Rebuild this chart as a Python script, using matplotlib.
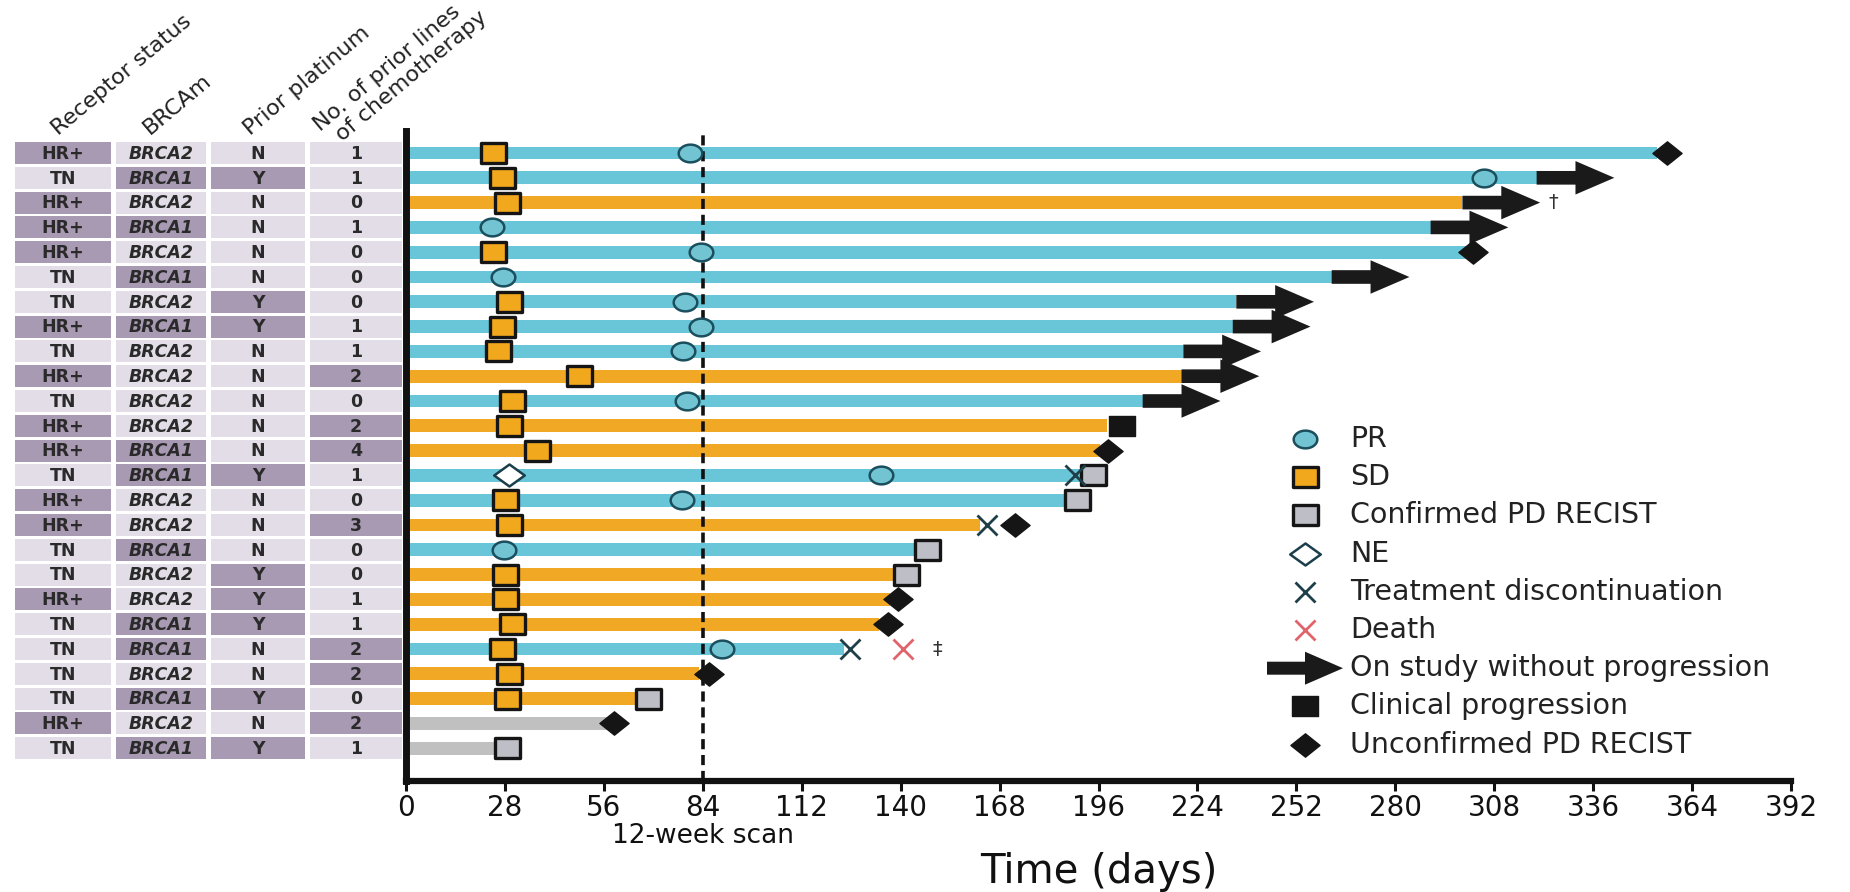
import matplotlib.pyplot as plt
import numpy as np
from matplotlib.patches import Rectangle, FancyArrow
from matplotlib.path import Path
from matplotlib.lines import Line2D

plt.rcParams['font.family'] = ['DejaVu Sans']

# patient table (top row first)
receptor = ['HR+', 'TN', 'HR+', 'HR+', 'HR+', 'TN', 'TN', 'HR+', 'TN', 'HR+', 'TN', 'HR+', 'HR+',
            'TN', 'HR+', 'HR+', 'TN', 'TN', 'HR+', 'TN', 'TN', 'TN', 'TN', 'HR+', 'TN']
brca = ['BRCA2', 'BRCA1', 'BRCA2', 'BRCA1', 'BRCA2', 'BRCA1', 'BRCA2', 'BRCA1', 'BRCA2', 'BRCA2',
        'BRCA2', 'BRCA2', 'BRCA1', 'BRCA1', 'BRCA2', 'BRCA2', 'BRCA1', 'BRCA2', 'BRCA2', 'BRCA1',
        'BRCA1', 'BRCA2', 'BRCA1', 'BRCA2', 'BRCA1']
platinum = ['N', 'Y', 'N', 'N', 'N', 'N', 'Y', 'Y', 'N', 'N', 'N', 'N', 'N', 'Y', 'N', 'N', 'N',
            'Y', 'Y', 'Y', 'N', 'N', 'Y', 'N', 'Y']
prior_lines = [1, 1, 0, 1, 0, 0, 0, 1, 1, 2, 0, 2, 4, 1, 0, 3, 0, 0, 1, 1, 2, 2, 0, 2, 1]

# swimmer bars
best_response = ['PR', 'PR', 'SD', 'PR', 'PR', 'PR', 'PR', 'PR', 'PR', 'SD', 'PR', 'SD', 'SD',
                 'PR', 'PR', 'SD', 'PR', 'SD', 'SD', 'SD', 'PR', 'SD', 'SD', 'PD', 'PD']
duration = [354, 320, 299, 290, 300, 262, 235, 234, 220, 219.5, 208.5, 198.5, 196.5, 192, 188,
            162.5, 145, 140, 137, 134, 124, 83, 65.5, 57, 26]
ongoing = [2, 3, 4, 6, 7, 8, 9, 10, 11]  # patient numbers still on study

# events (patient number, day)
sd_pt = [1, 2, 3, 5, 7, 8, 9, 10, 11, 12, 13, 15, 16, 18, 19, 20, 21, 22, 23]
sd_day = [24.6, 27.2, 28.6, 24.6, 29.2, 27.2, 26, 49, 30, 29.2, 37, 28, 29.2, 28, 28, 30, 27.2, 29.2, 28.6]
pr_pt = [1, 2, 4, 5, 6, 7, 8, 9, 11, 14, 15, 17, 21]
pr_day = [80.4, 305, 24.3, 83.5, 27.5, 79, 83.5, 78.4, 79.5, 134.4, 78, 27.7, 89.4]
ne_pt = [14]
ne_day = [29.2]
cpd_pt = [14, 15, 17, 18, 23, 25]
cpd_day = [194.4, 190, 147.5, 141.5, 68.5, 28.6]
disc_pt = [14, 16, 21]
disc_day = [189.4, 164.4, 125.7]
death_pt = [21]
death_day = [140.7]
clin_pt = [12]
clin_day = [202.6]
upd_pt = [1, 5, 13, 16, 19, 20, 22, 24]
upd_day = [357, 302, 198.7, 172.4, 139.3, 136.4, 85.8, 59]
note_pt = [3, 21]
note_day = [324.6, 150.3]
note_txt = ['\u2020', '\u2021']

col_headers = ['Receptor status', 'BRCAm', 'Prior platinum']

CYAN = '#68C6D8'
ORANGE = '#F0A825'
GRAY = '#C0C0C0'
bar_colors = {'PR': CYAN, 'SD': ORANGE, 'PD': GRAY}
DARK_CELL = '#A99AB4'
LIGHT_CELL = '#E2DDE7'


def box(a):
    return Path([(-1, -a), (1, -a), (1, a), (-1, a), (-1, -a)], closed=True)


def ellipse(a):
    t = np.linspace(0, 2 * np.pi, 61)
    return Path(np.column_stack([np.cos(t), a * np.sin(t)]), closed=True)


def diamond(a):
    return Path([(-1, 0), (0, a), (1, 0), (0, -a), (-1, 0)], closed=True)


styles = {
    'PR': dict(marker=ellipse(0.75), ms=17, mfc='#72C4D3', mec='#1B4F5E', mew=1.8),
    'SD': dict(marker=box(0.78), ms=18, mfc='#F2A81D', mec='#151515', mew=2.4),
    'CPD': dict(marker=box(0.78), ms=18, mfc='#BEBEC6', mec='#151515', mew=2.4),
    'NE': dict(marker=diamond(0.72), ms=22, mfc='white', mec='#1B3F4A', mew=1.8),
    'DISC': dict(marker='x', ms=14, mfc='none', mec='#1E3E48', mew=2),
    'DEATH': dict(marker='x', ms=14, mfc='none', mec='#E0646C', mew=2),
    'CLIN': dict(marker=box(0.78), ms=19, mfc='#151515', mec='#151515', mew=1),
    'UPD': dict(marker=diamond(0.8), ms=21, mfc='#151515', mec='#151515', mew=1),
}

W, H = 1850, 892
AX_L, AX_R, AX_T, AX_B = 406, 1791, 131, 781
ROW0, ROWSTEP = 153, 24.8

fig = plt.figure(figsize=(W / 100, H / 100), dpi=100)
ax = fig.add_axes([AX_L / W, 1 - AX_B / H, (AX_R - AX_L) / W, (AX_B - AX_T) / H])
ax_t = fig.add_axes([0, 1 - AX_B / H, AX_L / W, (AX_B - AX_T) / H], sharey=ax)

n = len(receptor)
rows = np.arange(n)

ax.barh(rows, duration, height=0.52, color=[bar_colors[r] for r in best_response], zorder=1)
ax.axvline(84, color='#111111', lw=2.6, dashes=(2.8, 1.6), zorder=2)

for p in ongoing:
    i = p - 1
    ax.add_patch(FancyArrow(duration[i], i, 22, 0, width=0.55, head_width=1.35, head_length=11,
                            length_includes_head=True, color='#1A1A1A', lw=0, zorder=3))


def put(pts, days, key):
    st = styles[key]
    ax.plot(days, np.array(pts) - 1, ls='none', marker=st['marker'], ms=st['ms'], mfc=st['mfc'],
            mec=st['mec'], mew=st['mew'], zorder=4, clip_on=False)


put(sd_pt, sd_day, 'SD')
put(pr_pt, pr_day, 'PR')
put(ne_pt, ne_day, 'NE')
put(cpd_pt, cpd_day, 'CPD')
put(disc_pt, disc_day, 'DISC')
put(death_pt, death_day, 'DEATH')
put(clin_pt, clin_day, 'CLIN')
put(upd_pt, upd_day, 'UPD')

for p, d, s in zip(note_pt, note_day, note_txt):
    ax.text(d, p - 1, s, ha='center', va='center', fontsize=14, color='#333333', zorder=5)

ax.set_xlim(0, 392)
ax.set_ylim((AX_B - ROW0) / ROWSTEP, (AX_T - ROW0) / ROWSTEP)
ax.set_xticks(np.arange(0, 393, 28))
ax.set_yticks([])
ax.tick_params(axis='x', length=7, width=2.2, labelsize=20, pad=2, colors='#111111')
for s in ['top', 'right']:
    ax.spines[s].set_visible(False)
ax.spines['left'].set_linewidth(5)
ax.spines['bottom'].set_linewidth(4.5)
ax.spines['left'].set_color('#111111')
ax.spines['bottom'].set_color('#111111')
ax.set_xlabel('Time (days)', fontsize=29, labelpad=22, color='#111111')
ax.text(84, -0.085, '12-week scan', transform=ax.get_xaxis_transform(), ha='center', va='center',
        fontsize=19, color='#111111')

# table
ax_t.set_xlim(0, AX_L)
ax_t.axis('off')
cols = [(15, 111), (116, 206), (211, 305), (310, 402)]
for i in rows:
    cells = [(receptor[i], receptor[i] == 'HR+', 'normal'),
             (brca[i], brca[i] == 'BRCA1', 'italic'),
             (platinum[i], platinum[i] == 'Y', 'normal'),
             (str(prior_lines[i]), prior_lines[i] >= 2, 'normal')]
    for (x0, x1), (txt, dark, style) in zip(cols, cells):
        ax_t.add_patch(Rectangle((x0, i - 0.44), x1 - x0, 0.88, color=DARK_CELL if dark else LIGHT_CELL, lw=0))
        ax_t.text((x0 + x1) / 2, i + 0.03, txt, ha='center', va='center', fontsize=12.5,
                  fontweight='bold', style=style, color='#2A2A2A')


def ry(py):
    return (py - ROW0) / ROWSTEP


hdr_pos = [(58, 136), (150, 135), (250, 136)]
for (hx, hy), txt in zip(hdr_pos, col_headers):
    ax_t.text(hx, ry(hy), txt, rotation=40, rotation_mode='anchor', ha='left', va='baseline',
              fontsize=16, color='#222222')
ax_t.text(320, ry(132), 'No. of prior lines', rotation=40, rotation_mode='anchor', ha='left',
          va='baseline', fontsize=16, color='#222222')
ax_t.text(342, ry(142), 'of chemotherapy', rotation=40, rotation_mode='anchor', ha='left',
          va='baseline', fontsize=16, color='#222222')

# legend
LEG_X, LEG_TX, LEG_Y0, LEG_DY = 1305, 1350, 439, 38.2
legend_items = [('PR', 'PR'), ('SD', 'SD'), ('CPD', 'Confirmed PD RECIST'), ('NE', 'NE'),
                ('DISC', 'Treatment discontinuation'), ('DEATH', 'Death'),
                ('ARROW', 'On study without progression'), ('CLIN', 'Clinical progression'),
                ('UPD', 'Unconfirmed PD RECIST')]
for k, (key, label) in enumerate(legend_items):
    y = 1 - (LEG_Y0 + k * LEG_DY) / H
    if key == 'ARROW':
        fig.add_artist(FancyArrow(1267 / W, y, 76 / W, 0, width=13 / H, head_width=33 / H,
                                  head_length=38 / W, length_includes_head=True,
                                  color='#1A1A1A', lw=0, transform=fig.transFigure))
    else:
        st = styles[key]
        fig.add_artist(Line2D([LEG_X / W], [y], ls='none', marker=st['marker'], ms=st['ms'],
                              mfc=st['mfc'], mec=st['mec'], mew=st['mew'], transform=fig.transFigure))
    fig.text(LEG_TX / W, y, label, ha='left', va='center', fontsize=20.5, color='#222222')

fig.savefig('out.png', dpi=100)
